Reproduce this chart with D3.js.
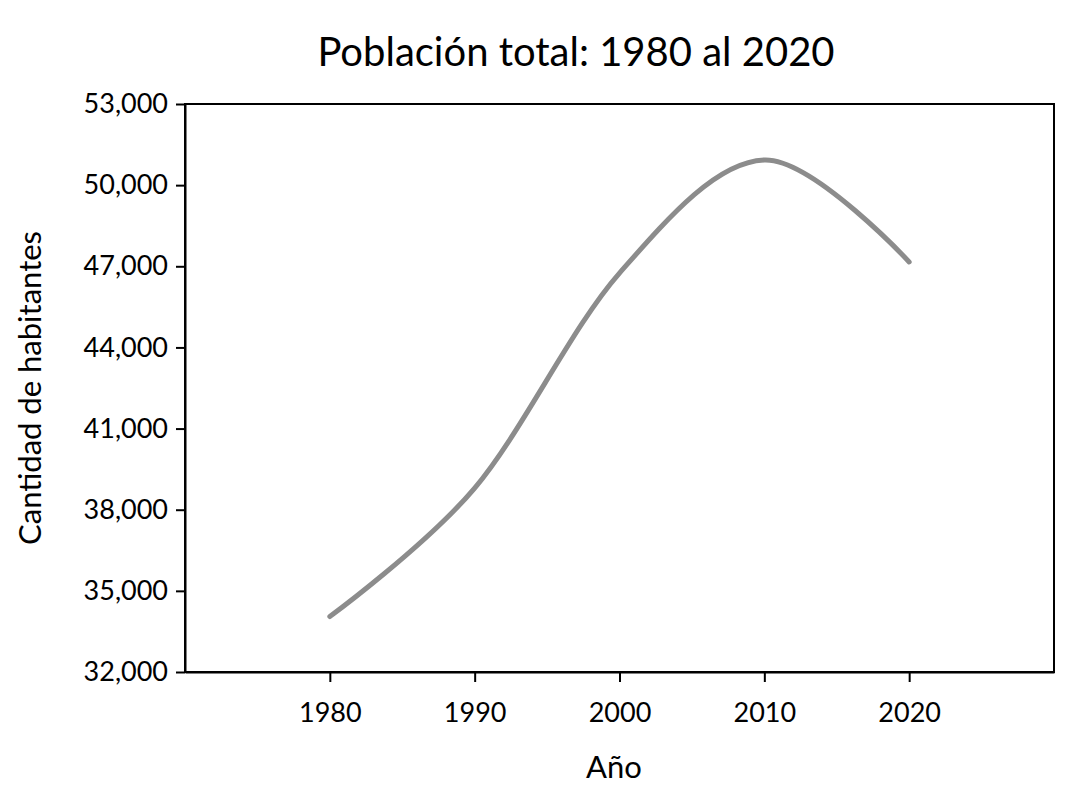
<!DOCTYPE html>
<html>
<head>
<meta charset="utf-8">
<script src="https://cdn.jsdelivr.net/npm/d3@7"></script>
<style>
  body { margin: 0; background: #fff; }
  text { font-family: Lato, "Open Sans", sans-serif; fill: #000; }
</style>
</head>
<body>
<svg id="chart" width="1092" height="793"></svg>
<script>
// data
var years = [1980, 1990, 2000, 2010, 2020];
var poblacion = [34050, 38800, 46750, 50930, 47160];
var yTicks = [32000, 35000, 38000, 41000, 44000, 47000, 50000, 53000];
var xTicks = [1980, 1990, 2000, 2010, 2020];

var svg = d3.select("#chart");
var pLeft = 185, pRight = 1054, pTop = 104, pBottom = 672;

var x = d3.scaleLinear().domain([1970, 2030]).range([pLeft, pRight]);
var y = d3.scaleLinear().domain([32000, 53000]).range([pBottom, pTop]);

// frame
svg.append("rect")
  .attr("x", pLeft).attr("y", pTop)
  .attr("width", pRight - pLeft).attr("height", pBottom - pTop)
  .attr("fill", "none").attr("stroke", "#000").attr("stroke-width", 2);

var yAxis = svg.append("g")
  .attr("transform", "translate(" + pLeft + ",0)")
  .call(d3.axisLeft(y).tickValues(yTicks).tickFormat(d3.format(",")).tickSize(9).tickSizeOuter(0).tickPadding(8));
yAxis.select(".domain").attr("stroke-width", 2);
yAxis.selectAll(".tick line").attr("stroke-width", 2);
yAxis.selectAll("text").style("font-size", "27px").attr("fill", "#000");

var xAxis = svg.append("g")
  .attr("transform", "translate(0," + pBottom + ")")
  .call(d3.axisBottom(x).tickValues(xTicks).tickFormat(d3.format("d")).tickSize(10).tickSizeOuter(0).tickPadding(21));
xAxis.select(".domain").attr("stroke-width", 2);
xAxis.selectAll(".tick line").attr("stroke-width", 2);
xAxis.selectAll("text").style("font-size", "27px").attr("fill", "#000");

var line = d3.line()
  .x(function(d, i){ return x(years[i]); })
  .y(function(d){ return y(d); })
  .curve(d3.curveCardinal.tension(0));

svg.append("path")
  .datum(poblacion)
  .attr("d", line)
  .attr("fill", "none")
  .attr("stroke", "#8c8c8c")
  .attr("stroke-width", 5)
  .attr("stroke-linecap", "round");

svg.append("text")
  .attr("x", 576).attr("y", 66)
  .attr("text-anchor", "middle")
  .style("font-size", "40px")
  .text("Población total: 1980 al 2020");

svg.append("text")
  .attr("x", 614).attr("y", 778)
  .attr("text-anchor", "middle")
  .style("font-size", "31px")
  .text("Año");

svg.append("text")
  .attr("transform", "translate(41,388) rotate(-90)")
  .attr("text-anchor", "middle")
  .style("font-size", "31px")
  .text("Cantidad de habitantes");
</script>
</body>
</html>
